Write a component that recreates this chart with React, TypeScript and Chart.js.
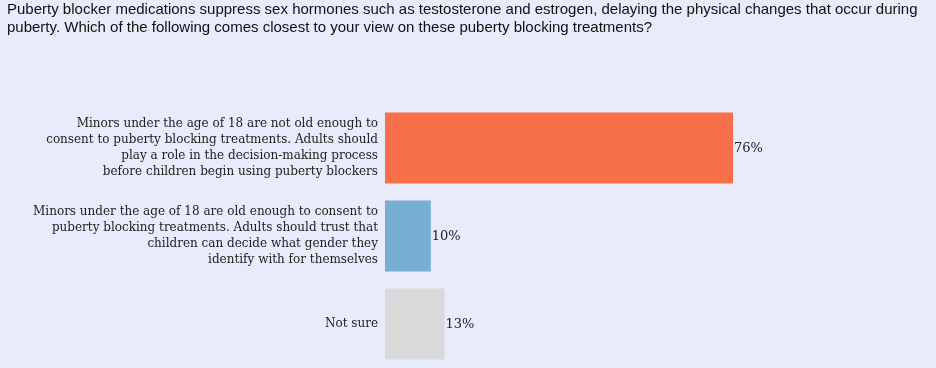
import React, { useEffect, useRef } from "react";
import { Chart, registerables } from "chart.js";

Chart.register(...registerables);

const titleLines = [
  "Puberty blocker medications suppress sex hormones such as testosterone and estrogen, delaying the physical changes that occur during",
  "puberty. Which of the following comes closest to your view on these puberty blocking treatments?",
];

const categories: string[][] = [
  [
    "Minors under the age of 18 are not old enough to",
    "consent to puberty blocking treatments. Adults should",
    "play a role in the decision-making process",
    "before children begin using puberty blockers",
  ],
  [
    "Minors under the age of 18 are old enough to consent to",
    "puberty blocking treatments. Adults should trust that",
    "children can decide what gender they",
    "identify with for themselves",
  ],
  ["Not sure"],
];

const values = [76, 10, 13];
const valueLabels = ["76%", "10%", "13%"];
const barColors = ["#F7704A", "#77AED4", "#D9D9D9"];

const BG = "#E8EBFA";

const valueLabelPlugin = {
  id: "valueLabels",
  afterDatasetsDraw(chart: any) {
    const ctx = chart.ctx;
    const meta = chart.getDatasetMeta(0);
    ctx.save();
    ctx.font = "13px 'DejaVu Serif', serif";
    ctx.fillStyle = "#222";
    ctx.textAlign = "left";
    ctx.textBaseline = "middle";
    meta.data.forEach((bar: any, i: number) => {
      ctx.fillText(valueLabels[i], bar.x + 1, bar.y + 1);
    });
    ctx.restore();
  },
};

export default function App() {
  const ref = useRef<HTMLCanvasElement>(null);
  useEffect(() => {
    document.body.style.margin = "0";
    document.body.style.background = BG;
    const chart = new Chart(ref.current!, {
      type: "bar",
      data: {
        labels: categories,
        datasets: [
          {
            data: values,
            backgroundColor: barColors,
            barPercentage: 0.807,
            categoryPercentage: 1,
          },
        ],
      },
      options: {
        indexAxis: "y",
        animation: false,
        responsive: false,
        maintainAspectRatio: false,
        layout: { padding: { left: 7, right: 93, top: 104, bottom: 0 } },
        plugins: {
          legend: { display: false },
          tooltip: { enabled: false },
          title: { display: false },
        },
        scales: {
          x: { display: false, min: 0, max: 100 },
          y: {
            grid: { display: false, drawTicks: false },
            border: { display: false },
            afterFit(scale: any) {
              scale.width = 378;
              scale.paddingTop = 0;
              scale.paddingBottom = 0;
            },
            ticks: {
              color: "#222",
              padding: 7,
              font: { family: "'DejaVu Serif', serif", size: 12, lineHeight: 1.333 },
            },
          },
        },
      },
      plugins: [valueLabelPlugin],
    });
    return () => chart.destroy();
  }, []);
  return (
    <div style={{ position: "relative", width: 936, height: 368, background: BG }}>
      <canvas ref={ref} width={936} height={368} style={{ display: "block" }} />
      <div
        style={{
          position: "absolute",
          left: 7,
          top: 0,
          fontFamily: "'Liberation Sans', Arial, sans-serif",
          fontSize: 15,
          lineHeight: "18px",
          color: "#111",
          whiteSpace: "nowrap",
        }}
      >
        {titleLines.map((l, i) => (
          <div key={i}>{l}</div>
        ))}
      </div>
    </div>
  );
}
